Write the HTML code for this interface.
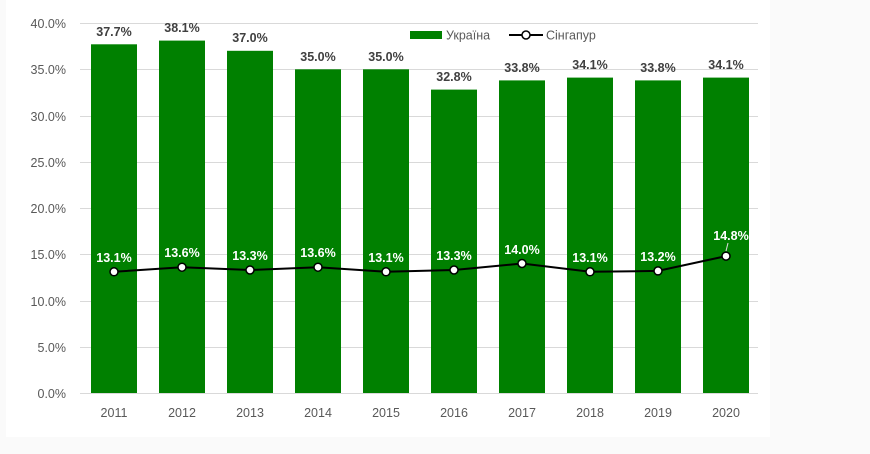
<!DOCTYPE html>
<html><head><meta charset="utf-8"><style>
body{margin:0;width:870px;height:454px;background:#fafafa;overflow:hidden}
svg{display:block}
text{font-family:"Liberation Sans",sans-serif}
</style></head><body>
<svg width="870" height="454" xmlns="http://www.w3.org/2000/svg">
<rect x="6" y="0" width="764" height="437" fill="#fff"/>
<g stroke="#d9d9d9" stroke-width="1">
<line x1="80" y1="23.5" x2="758" y2="23.5"/>
<line x1="80" y1="69.5" x2="758" y2="69.5"/>
<line x1="80" y1="116.5" x2="758" y2="116.5"/>
<line x1="80" y1="162.5" x2="758" y2="162.5"/>
<line x1="80" y1="208.5" x2="758" y2="208.5"/>
<line x1="80" y1="254.5" x2="758" y2="254.5"/>
<line x1="80" y1="301.5" x2="758" y2="301.5"/>
<line x1="80" y1="347.5" x2="758" y2="347.5"/>
<line x1="80" y1="393.5" x2="758" y2="393.5"/>
</g>
<g font-size="12.5" fill="#595959" text-anchor="end">
<text x="66" y="28">40.0%</text><text x="66" y="74">35.0%</text><text x="66" y="121">30.0%</text>
<text x="66" y="167">25.0%</text><text x="66" y="213">20.0%</text><text x="66" y="259">15.0%</text>
<text x="66" y="306">10.0%</text><text x="66" y="352">5.0%</text><text x="66" y="398">0.0%</text>
</g>
<rect x="410" y="31" width="32" height="8" fill="#008000"/>
<text x="446" y="39.5" font-size="12.5" fill="#595959">Україна</text>
<line x1="509" y1="35" x2="543" y2="35" stroke="#000" stroke-width="2"/>
<circle cx="526" cy="35" r="4" fill="#fff" stroke="#000" stroke-width="1.5"/>
<text x="546" y="39.5" font-size="12.5" fill="#595959">Сінгапур</text>
<g fill="#008000">
<rect x="91" y="44.3" width="46" height="348.7"/>
<rect x="159" y="40.6" width="46" height="352.4"/>
<rect x="227" y="50.8" width="46" height="342.2"/>
<rect x="295" y="69.3" width="46" height="323.7"/>
<rect x="363" y="69.3" width="46" height="323.7"/>
<rect x="431" y="89.6" width="46" height="303.4"/>
<rect x="499" y="80.4" width="46" height="312.6"/>
<rect x="567" y="77.6" width="46" height="315.4"/>
<rect x="635" y="80.4" width="46" height="312.6"/>
<rect x="703" y="77.6" width="46" height="315.4"/>
</g>
<g font-size="12.5" font-weight="bold" fill="#404040" text-anchor="middle">
<text x="114" y="36">37.7%</text><text x="182" y="32">38.1%</text><text x="250" y="42">37.0%</text>
<text x="318" y="61">35.0%</text><text x="386" y="61">35.0%</text><text x="454" y="81">32.8%</text>
<text x="522" y="72">33.8%</text><text x="590" y="69">34.1%</text><text x="658" y="72">33.8%</text>
<text x="726" y="69">34.1%</text>
</g>
<polyline fill="none" stroke="#000" stroke-width="2" points="114,271.8 182,267.2 250,270 318,267.2 386,271.8 454,270 522,263.5 590,271.8 658,270.9 726,256.1"/>
<g fill="#fff" stroke="#000" stroke-width="1.5">
<circle cx="114" cy="271.8" r="4"/><circle cx="182" cy="267.2" r="4"/><circle cx="250" cy="270" r="4"/>
<circle cx="318" cy="267.2" r="4"/><circle cx="386" cy="271.8" r="4"/><circle cx="454" cy="270" r="4"/>
<circle cx="522" cy="263.5" r="4"/><circle cx="590" cy="271.8" r="4"/><circle cx="658" cy="270.9" r="4"/>
<circle cx="726" cy="256.1" r="4"/>
</g>
<line x1="728" y1="243" x2="726" y2="251" stroke="#d9d9d9" stroke-width="1"/>
<g font-size="12.5" font-weight="bold" fill="#fff" text-anchor="middle">
<text x="114" y="262">13.1%</text><text x="182" y="257">13.6%</text><text x="250" y="260">13.3%</text>
<text x="318" y="257">13.6%</text><text x="386" y="262">13.1%</text><text x="454" y="260">13.3%</text>
<text x="522" y="254">14.0%</text><text x="590" y="262">13.1%</text><text x="658" y="261">13.2%</text>
<text x="731" y="240">14.8%</text>
</g>
<g font-size="12.5" fill="#595959" text-anchor="middle">
<text x="114" y="417">2011</text><text x="182" y="417">2012</text><text x="250" y="417">2013</text>
<text x="318" y="417">2014</text><text x="386" y="417">2015</text><text x="454" y="417">2016</text>
<text x="522" y="417">2017</text><text x="590" y="417">2018</text><text x="658" y="417">2019</text>
<text x="726" y="417">2020</text>
</g>
</svg>
</body></html>
